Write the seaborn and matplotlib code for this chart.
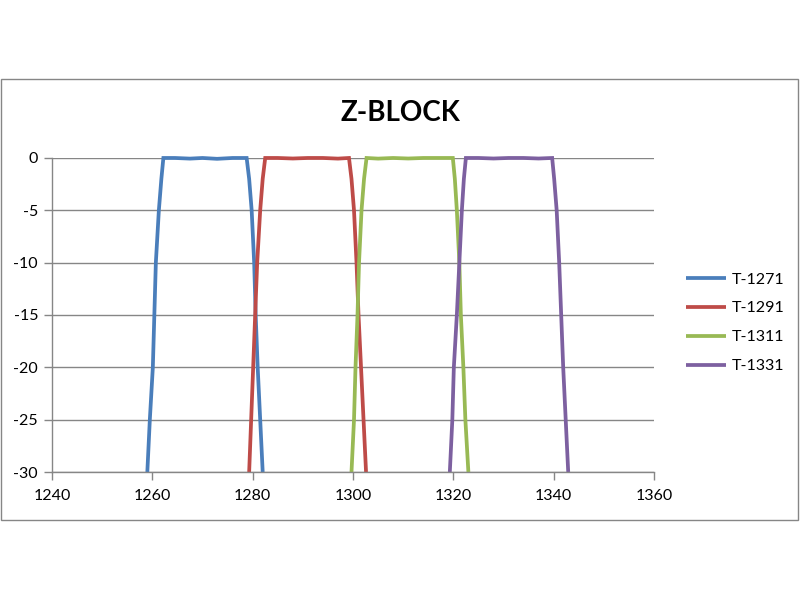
import matplotlib
matplotlib.use("Agg")
import matplotlib.pyplot as plt
import matplotlib.patches as patches
import pandas as pd
import seaborn as sns

# longitud de onda (nm) y atenuacion (dB), una serie por filtro
series_names = ["T-1271", "T-1291", "T-1311", "T-1331"]

wl_1271 = [1259.0, 1259.5, 1260.1, 1260.4, 1260.7, 1261.3, 1261.8, 1262.2, 1264.5, 1267.5, 1270.0,
           1272.9, 1276.0, 1278.8, 1279.3, 1279.8, 1280.3, 1280.6, 1281.0, 1281.5, 1282.0]
db_1271 = [-30, -25, -20, -15, -10, -5, -2, 0, 0, -0.06, 0, -0.08, 0, 0, -2, -5, -10, -15, -20, -25, -30]

wl_1291 = [1279.3, 1279.7, 1280.1, 1280.5, 1280.9, 1281.5, 1282.0, 1282.5, 1285.0, 1288.0, 1291.0,
           1294.0, 1297.0, 1299.2, 1299.7, 1300.2, 1300.7, 1301.1, 1301.6, 1302.1, 1302.6]
db_1291 = [-30, -25, -20, -15, -10, -5, -2, 0, 0, -0.05, 0, 0, -0.06, 0, -2, -5, -10, -15, -20, -25, -30]

wl_1311 = [1299.7, 1300.2, 1300.5, 1300.9, 1301.2, 1301.7, 1302.2, 1302.7, 1305.0, 1308.0, 1311.0,
           1314.0, 1317.0, 1319.9, 1320.3, 1320.7, 1321.2, 1321.5, 1322.0, 1322.4, 1323.0]
db_1311 = [-30, -25, -20, -15, -10, -5, -2, 0, -0.06, 0, -0.05, 0, 0, 0, -2, -5, -10, -15, -20, -25, -30]

wl_1331 = [1319.3, 1319.8, 1320.1, 1320.7, 1321.2, 1321.7, 1322.1, 1322.5, 1325.0, 1328.0, 1331.0,
           1334.0, 1337.0, 1339.7, 1340.1, 1340.6, 1341.1, 1341.5, 1341.9, 1342.4, 1342.9]
db_1331 = [-30, -25, -20, -15, -10, -5, -2, 0, 0, -0.05, 0, 0, -0.05, 0, -2, -5, -10, -15, -20, -25, -30]

x_ticks = [1240, 1260, 1280, 1300, 1320, 1340, 1360]
y_ticks = [0, -5, -10, -15, -20, -25, -30]

colors = ["#4A7EBB", "#BE4B48", "#98B954", "#7D60A0"]

frames = []
for name, wl, db in zip(series_names, [wl_1271, wl_1291, wl_1311, wl_1331],
                        [db_1271, db_1291, db_1311, db_1331]):
    frames.append(pd.DataFrame({"wl": wl, "db": db, "serie": name}))
df = pd.concat(frames, ignore_index=True)

sns.set_theme(style="white")
plt.rcParams["font.family"] = ["Lato", "DejaVu Sans"]
plt.rcParams["axes.unicode_minus"] = False  # Excel usa guion simple en los ticks
plt.rcParams["text.color"] = "black"

fig = plt.figure(figsize=(8, 6), dpi=100)
ax = fig.add_axes([0.065, 0.2133, 0.7525, 0.5234])

sns.lineplot(data=df, x="wl", y="db", hue="serie", palette=colors, sort=False,
             estimator=None, linewidth=2.7, ax=ax, legend=True)
for line in ax.lines:
    line.set_clip_on(False)
    line.set_solid_capstyle("butt")
    line.set_solid_joinstyle("miter")

ax.set_xlim(1240, 1360)
ax.set_ylim(-30, 0)
ax.set_xticks(x_ticks)
ax.set_yticks(y_ticks)
ax.set_xlabel("")
ax.set_ylabel("")
ax.yaxis.grid(True, color="#868686", linewidth=1)
ax.xaxis.grid(False)
ax.set_axisbelow(True)
for side in ["top", "right"]:
    ax.spines[side].set_visible(False)
for side in ["left", "bottom"]:
    ax.spines[side].set_color("#868686")
    ax.spines[side].set_linewidth(1)
ax.tick_params(axis="both", which="major", length=6, width=1, color="#868686",
               labelsize=11.5, labelcolor="black", direction="out")
ax.tick_params(axis="y", pad=4, left=True)
ax.tick_params(axis="x", pad=6, bottom=True)

handles, labels = ax.get_legend_handles_labels()
ax.legend_.remove()
leg = fig.legend(handles, labels, loc="center left", bbox_to_anchor=(686 / 800, 0.462),
                 bbox_transform=fig.transFigure, frameon=False, fontsize=11.5,
                 handlelength=2.5, handletextpad=0.35, labelspacing=0.92,
                 borderpad=0, borderaxespad=0)
for txt in leg.get_texts():
    txt.set_color("black")

fig.text(0.5, 0.8117, "Z-BLOCK", ha="center", va="center", fontsize=20,
         fontweight="bold", color="black")

fig.patches.append(patches.Rectangle((0.00125, 0.1333), 0.99625, 0.735, transform=fig.transFigure,
                                     fill=False, edgecolor="#868686", linewidth=1))

fig.savefig("out.png", dpi=100)
plt.close(fig)
